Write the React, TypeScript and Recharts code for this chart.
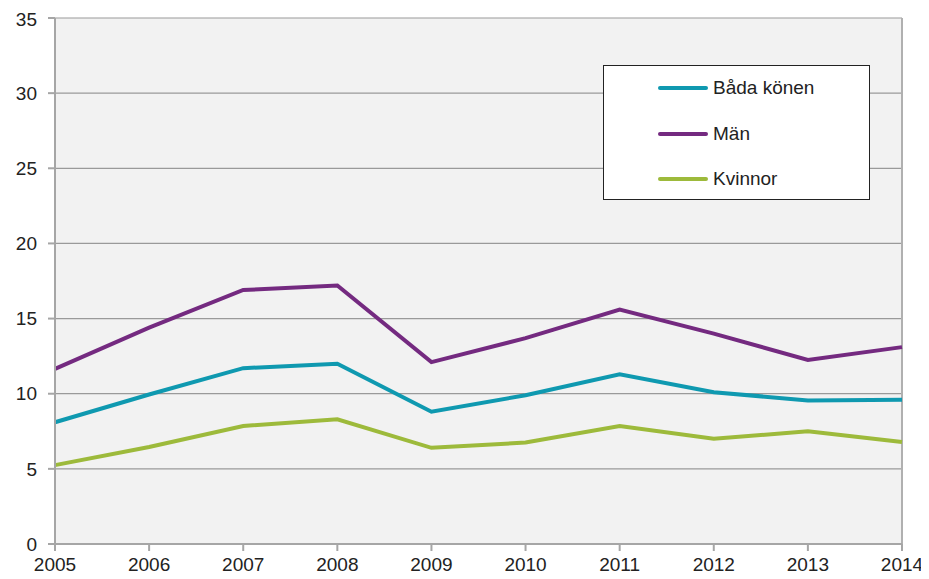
import {
  LineChart,
  Line,
  XAxis,
  YAxis,
  CartesianGrid,
  ReferenceLine,
} from "recharts";

const years = ["2005", "2006", "2007", "2008", "2009", "2010", "2011", "2012", "2013", "2014"];
const badaKonen = [8.1, 9.95, 11.7, 12.0, 8.8, 9.9, 11.3, 10.1, 9.55, 9.6];
const man = [11.65, 14.4, 16.9, 17.2, 12.1, 13.7, 15.6, 14.0, 12.25, 13.1];
const kvinnor = [5.25, 6.45, 7.85, 8.3, 6.4, 6.75, 7.85, 7.0, 7.5, 6.78];
const yTicks = [0, 5, 10, 15, 20, 25, 30, 35];

const series = [
  { key: "bada", name: "Båda könen", color: "#0f99b0" },
  { key: "man", name: "Män", color: "#742a80" },
  { key: "kvinnor", name: "Kvinnor", color: "#9dba3b" },
];

const data = years.map((year, i) => ({
  year,
  bada: badaKonen[i],
  man: man[i],
  kvinnor: kvinnor[i],
}));

const font = "'Liberation Sans', Arial, sans-serif";

function LegendBox() {
  return (
    <div
      style={{
        position: "absolute",
        left: 595,
        top: 57,
        width: 265,
        height: 133,
        background: "#fff",
        border: "1px solid #222",
        fontFamily: font,
        fontSize: 19,
        color: "#222",
      }}
    >
      {series.map((s, i) => (
        <div
          key={s.key}
          style={{
            position: "absolute",
            left: 54,
            top: 22 + i * 45.5 - 12,
            height: 24,
            display: "flex",
            alignItems: "center",
          }}
        >
          <div style={{ width: 50, height: 4, borderRadius: 2, background: s.color, marginRight: 5 }} />
          <span>{s.name}</span>
        </div>
      ))}
    </div>
  );
}

export default function App() {
  return (
    <div style={{ position: "relative", width: 921, height: 571 }}>
      <LineChart
        width={921}
        height={571}
        data={data}
        margin={{ top: 10, right: 27, bottom: 5, left: 7 }}
        style={{ fontFamily: font }}
      >
        <CartesianGrid vertical={false} fill="#f2f2f2" stroke="#9a9a9a" strokeWidth={1.2} />
        <XAxis
          dataKey="year"
          tickSize={7}
          tickMargin={7}
          height={30}
          stroke="#a6a6a6"
          strokeWidth={2}
          tick={{ fill: "#222", fontSize: 19 }}
          interval={0}
        />
        <YAxis
          domain={[0, 35]}
          ticks={yTicks}
          width={40}
          tickSize={7}
          tickMargin={11}
          stroke="#a6a6a6"
          strokeWidth={2}
          tick={{ fill: "#222", fontSize: 19 }}
        />
        <ReferenceLine x="2014" stroke="#b0b0b0" strokeWidth={2} />
        {series.map((s) => (
          <Line
            key={s.key}
            type="linear"
            dataKey={s.key}
            name={s.name}
            stroke={s.color}
            strokeWidth={4}
            dot={false}
            activeDot={false}
            isAnimationActive={false}
          />
        ))}
      </LineChart>
      <LegendBox />
    </div>
  );
}
